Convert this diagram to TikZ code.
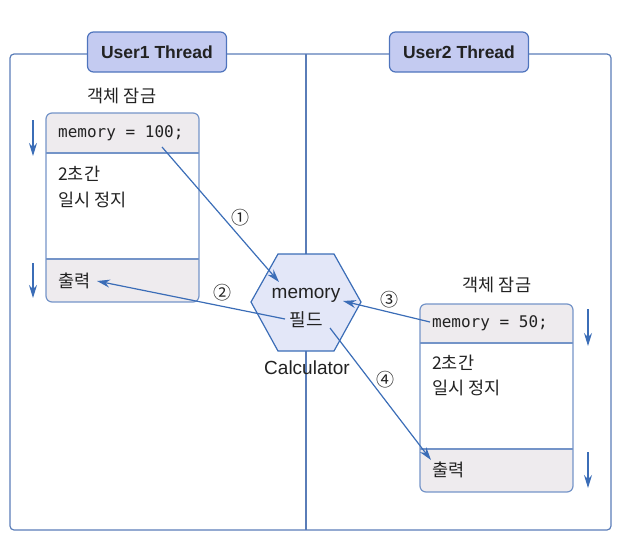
\documentclass[tikz,border=0pt]{standalone}
\usepackage{fontspec}
\setmainfont{Liberation Sans}
\newfontfamily\kr{Noto Sans CJK KR}
\newfontfamily\monof{DejaVu Sans Mono}
\usetikzlibrary{arrows.meta}
\definecolor{lineblue}{HTML}{3B6DB7}
\definecolor{framecol}{HTML}{5A7DB8}
\definecolor{boxcol}{HTML}{7494C8}
\definecolor{tabfill}{HTML}{C4CBF1}
\definecolor{tabdraw}{HTML}{4F74BD}
\definecolor{hdrfill}{HTML}{EEEBEE}
\definecolor{hexfill}{HTML}{E3E7F8}
\definecolor{txt}{HTML}{222222}
\tikzset{
  frameline/.style={draw=framecol, line width=1.2pt},
  tab/.style={draw=tabdraw, fill=tabfill, line width=1.2pt, rounded corners=6pt,
    minimum width=139pt, minimum height=40pt, inner sep=0pt,
    font=\fontsize{17.5}{20}\selectfont\bfseries, text=txt},
  boxline/.style={draw=boxcol, line width=1.2pt},
  code/.style={anchor=west, inner sep=0pt, font=\monof\fontsize{16}{18}\selectfont, text=txt},
  krtext/.style={anchor=west, inner sep=0pt, font=\kr\fontsize{17.5}{20}\selectfont, text=txt},
  krlabel/.style={inner sep=0pt, font=\kr\fontsize{17.5}{20}\selectfont, text=txt},
  sanstext/.style={inner sep=0pt, font=\fontsize{19}{22}\selectfont, text=txt},
  numlabel/.style={inner sep=0pt, font=\kr\fontsize{18}{22}\selectfont, text=txt},
  conn/.style={draw=lineblue, line width=1.2pt, -{Stealth[length=13pt,width=8pt]}},
  sidearrow/.style={draw=lineblue, line width=1.3pt, -{Stealth[length=13pt,width=8pt]}},
}
\begin{document}
\begin{tikzpicture}[x=1pt,y=-1pt]
\useasboundingbox (0,0) rectangle (624,542);
% outer frame and divider
\draw[frameline, rounded corners=4pt] (10,54) rectangle (611,530);
\draw[frameline] (306,54) -- (306,530);
% tabs
\node[tab] (t1) at (157,52) {User1 Thread};
\node[tab] (t2) at (459,52) {User2 Thread};

% left box
\begin{scope}
  \clip[rounded corners=6pt] (46,113) rectangle (199,302);
  \fill[hdrfill] (46,113) rectangle (199,153);
  \fill[hdrfill] (46,259) rectangle (199,302);
\end{scope}
\draw[boxline, rounded corners=6pt] (46,113) rectangle (199,302);
\draw[boxline] (46,153) -- (199,153);
\draw[boxline] (46,259) -- (199,259);
\node[krlabel] (lock1) at (122,96) {객체 잠금};
\node[code] (c1) at (58,133) {memory = 100;};
\node[krtext] (s1) at (58,174) {2초간};
\node[krtext] (p1) at (58,200) {일시 정지};
\node[krtext] (o1) at (58,281) {출력};

% right box
\begin{scope}
  \clip[rounded corners=6pt] (420,304) rectangle (573,492);
  \fill[hdrfill] (420,304) rectangle (573,343);
  \fill[hdrfill] (420,449) rectangle (573,492);
\end{scope}
\draw[boxline, rounded corners=6pt] (420,304) rectangle (573,492);
\draw[boxline] (420,343) -- (573,343);
\draw[boxline] (420,449) -- (573,449);
\node[krlabel] (lock2) at (497,285) {객체 잠금};
\node[code] (c2) at (432,323) {memory = 50;};
\node[krtext] (s2) at (432,363) {2초간};
\node[krtext] (p2) at (432,388) {일시 정지};
\node[krtext] (o2) at (432,470) {출력};

% hexagon
\draw[draw=lineblue, fill=hexfill, line width=1.2pt]
  (251,302) -- (278,254) -- (334,254) -- (361,302) -- (334,351) -- (278,351) -- cycle;
\node[sanstext] (hm) at (306,295) {memory};
\node[krlabel, font=\kr\fontsize{18}{20}\selectfont] (hf) at (306,320) {필드};
\node[sanstext] (calc) at (307,368) {Calculator};

% connector end points
\coordinate (a1s) at (162,147);
\coordinate (a1e) at (279,282);
\coordinate (a2s) at (285,319);
\coordinate (a2e) at (97,281);
\coordinate (a3s) at (430,322);
\coordinate (a3e) at (343,301);
\coordinate (a4s) at (330,328);
\coordinate (a4e) at (431,460);
\draw[conn] (a1s) -- (a1e);
\draw[conn] (a2s) -- (a2e);
\draw[conn] (a3s) -- (a3e);
\draw[conn] (a4s) -- (a4e);
\node[numlabel] (n1) at (240,218) {①};
\node[numlabel] (n2) at (222,293) {②};
\node[numlabel] (n3) at (389,300) {③};
\node[numlabel] (n4) at (385,380) {④};

% side arrows
\coordinate (l1s) at (33,120); \coordinate (l1e) at (33,156);
\coordinate (l2s) at (33,263); \coordinate (l2e) at (33,298);
\coordinate (r1s) at (588,309); \coordinate (r1e) at (588,346);
\coordinate (r2s) at (588,452); \coordinate (r2e) at (588,488);
\draw[sidearrow] (l1s) -- (l1e);
\draw[sidearrow] (l2s) -- (l2e);
\draw[sidearrow] (r1s) -- (r1e);
\draw[sidearrow] (r2s) -- (r2e);
\end{tikzpicture}
\end{document}
